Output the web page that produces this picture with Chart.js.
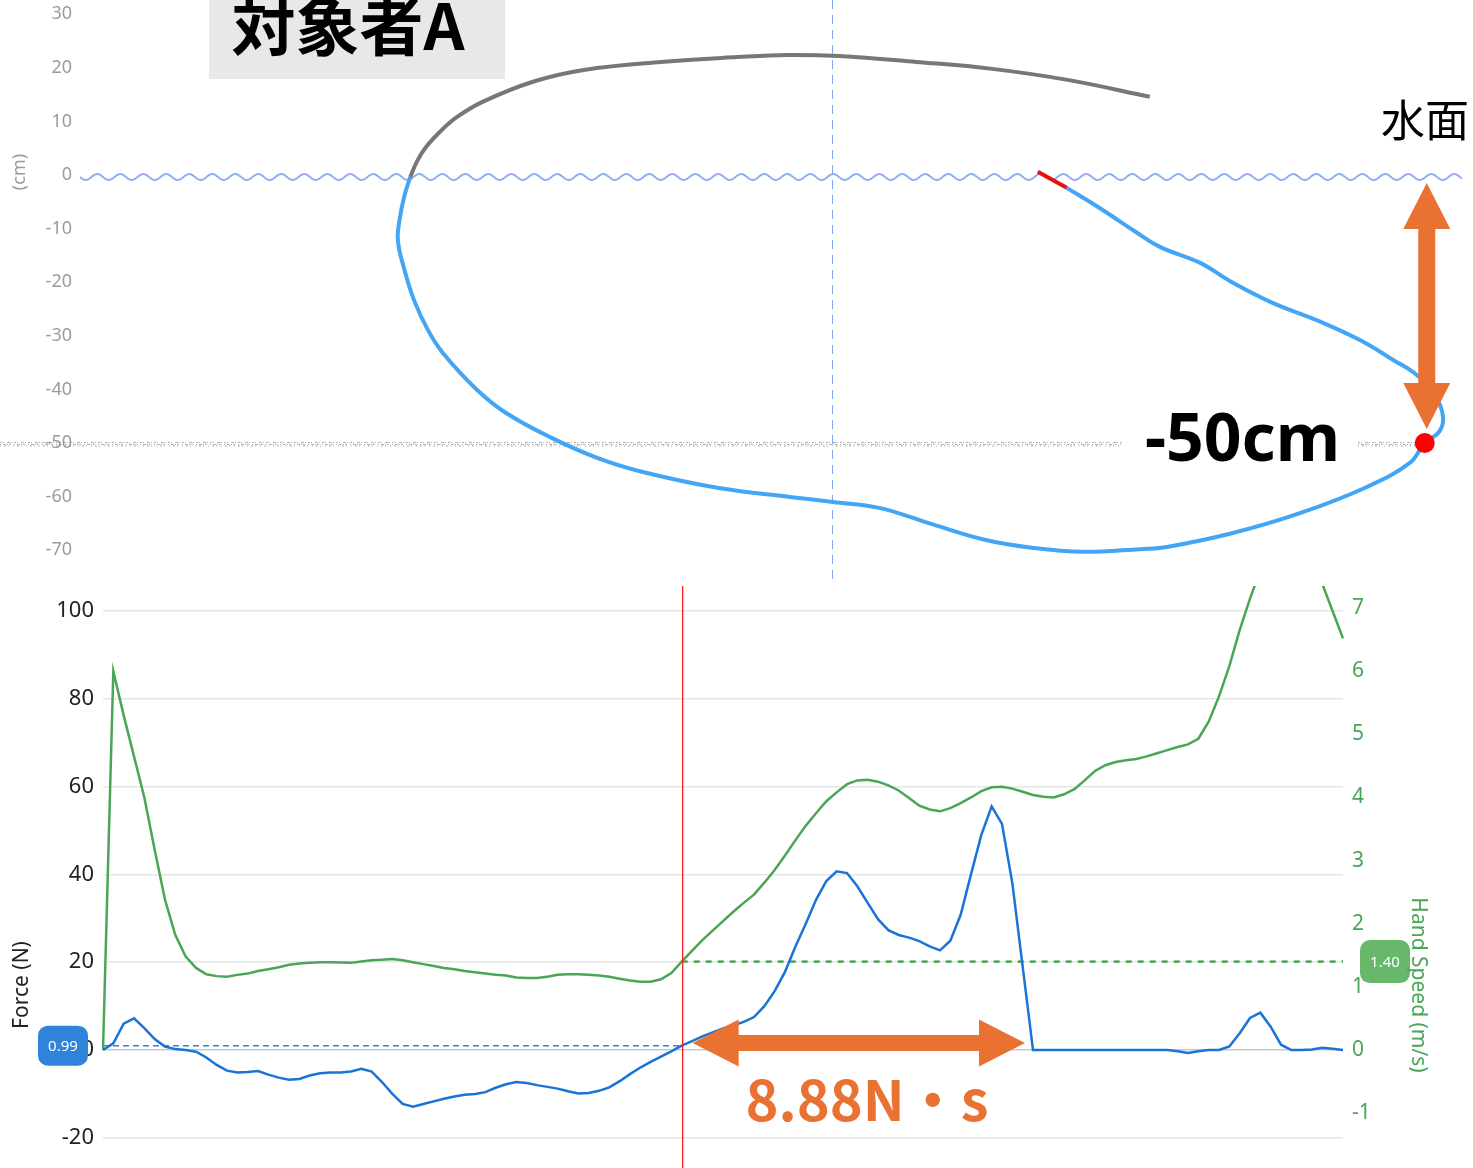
<!DOCTYPE html>
<html lang="ja">
<head>
<meta charset="utf-8">
<title>対象者A ストローク</title>
<script src="https://cdn.jsdelivr.net/npm/chart.js@4.4.1/dist/chart.umd.min.js"></script>
<style>
  html, body { margin: 0; padding: 0; background: #fff; }
  #wrap { position: relative; width: 1473px; height: 1168px; overflow: hidden; }
  #pathChart { position: absolute; left: 0; top: 0; }
  #forceChart { position: absolute; left: 0; top: 586px; }
</style>
</head>
<body>
<div id="wrap">
  <canvas id="pathChart" width="1473" height="582"></canvas>
  <canvas id="forceChart" width="1473" height="582"></canvas>
</div>
<script>
// hand path, side view (cm): horizontal position / depth
const recoveryX = [-78.7, -77.4, -75.6, -72.6, -70.0, -65.3, -55.8, -46.3, -31.9, -17.7, -8.2, 1.3, 15.7, 29.9, 44.2, 59.3];
const recoveryY = [-0.4, 2.6, 5.4, 8.6, 10.8, 13.6, 17.4, 19.6, 21.1, 22.0, 22.4, 22.2, 21.1, 19.8, 17.7, 14.6];

const strokeX = [43.8, 50.0, 56.2, 61.2, 68.7, 74.8, 82.3, 90.5, 98.5, 104.7,
  109.1, 112.5, 114.0, 113.3, 110.6, 107.8, 99.8, 87.3, 74.8, 62.5,
  57.5, 46.8, 37.7, 28.7, 17.9, 8.8, 0.2, -7.5, -21.1, -34.5,
  -43.7, -52.6, -60.8, -66.2, -72.6, -75.4, -78.0, -79.9, -81.0, -80.6, -79.8, -78.7];
const strokeY = [-2.4, -6.2, -10.3, -13.4, -16.4, -20.1, -23.9, -27.1, -30.8, -34.5,
  -37.3, -41.0, -45.1, -47.9, -50.0, -53.7, -58.2, -63.1, -66.8, -69.4,
  -69.8, -70.3, -69.6, -68.1, -64.9, -62.1, -61.0, -60.1, -58.4, -55.6,
  -52.8, -48.9, -44.4, -40.1, -33.2, -28.9, -23.3, -17.2, -12.1, -7.9, -4.0, -0.4];

const entryX = [38.4, 43.8];
const entryY = [0.6, -2.4];

const deepX = [110.6];
const deepY = [-50];

const depthTicks = [30, 20, 10, 0, -10, -20, -30, -40, -50, -60, -70];

// force (N) and hand speed (m/s), one sample every 10 ms
const forceN = [
  0, 1.5, 6.0, 7.2, 5.0, 2.5, 0.8, 0.2, 0.0, -0.4,
  -1.7, -3.4, -4.7, -5.1, -5.0, -4.8, -5.6, -6.3, -6.8, -6.6,
  -5.8, -5.3, -5.1, -5.1, -4.9, -4.3, -4.9, -7.3, -10.0, -12.3,
  -12.9, -12.3, -11.7, -11.1, -10.6, -10.2, -10.0, -9.6, -8.6, -7.8,
  -7.3, -7.5, -8.0, -8.4, -8.8, -9.4, -9.9, -9.8, -9.3, -8.5,
  -7.1, -5.5, -4.0, -2.7, -1.5, -0.3, 0.99, 2.0, 3.1, 4.0,
  4.9, 5.6, 6.4, 7.5, 10.0, 13.4, 17.8, 23.5, 28.7, 34.2,
  38.5, 40.7, 40.3, 37.3, 33.5, 29.8, 27.3, 26.2, 25.6, 24.8,
  23.6, 22.7, 24.9, 30.8, 40.0, 49.0, 55.5, 51.5, 38.0, 19.0,
  0, 0, 0, 0, 0, 0, 0, 0, 0, 0,
  0, 0, 0, 0, -0.3, -0.7, -0.3, 0, 0, 0.8,
  3.8, 7.3, 8.5, 5.3, 1.2, 0, 0, 0.1, 0.5, 0.3,
  0
];
const handSpeed = [
  0, 6.0, 5.30, 4.65, 4.0, 3.17, 2.38, 1.82, 1.48, 1.30,
  1.20, 1.17, 1.16, 1.19, 1.21, 1.25, 1.28, 1.31, 1.35, 1.37,
  1.38, 1.39, 1.39, 1.385, 1.38, 1.40, 1.42, 1.43, 1.44, 1.42,
  1.39, 1.36, 1.33, 1.30, 1.28, 1.25, 1.23, 1.21, 1.19, 1.18,
  1.15, 1.14, 1.14, 1.16, 1.19, 1.20, 1.20, 1.19, 1.18, 1.16,
  1.13, 1.10, 1.08, 1.08, 1.12, 1.22, 1.40, 1.57, 1.74, 1.89,
  2.04, 2.19, 2.33, 2.46, 2.65, 2.85, 3.08, 3.32, 3.55, 3.75,
  3.94, 4.08, 4.21, 4.27, 4.28, 4.25, 4.19, 4.11, 3.99, 3.87,
  3.81, 3.78, 3.83, 3.91, 4.00, 4.10, 4.16, 4.17, 4.14, 4.09,
  4.04, 4.01, 4.00, 4.05, 4.13, 4.27, 4.42, 4.51, 4.56, 4.59,
  4.61, 4.65, 4.70, 4.75, 4.80, 4.84, 4.93, 5.20, 5.60, 6.08,
  6.65, 7.15, 7.60, 8.00, 8.25, 8.35, 8.25, 7.90, 7.38, 6.95,
  6.52
];
const forceTicks = [-20, 0, 20, 40, 60, 80, 100];
const speedTicks = [-1, 0, 1, 2, 3, 4, 5, 6, 7];
const cursorIndex = 56;   // sample where the hand starts pushing
const pushEndIndex = 90;  // force back to zero
const impulseLabel = '8.88N・s';

const ORANGE = '#e97132';
const BLUE_PATH = '#42a5f5';
const FORCE_BLUE = '#1a73d6';
const SPEED_GREEN = '#4aa556';

function xy(xs, ys) {
  return xs.map((x, i) => ({ x: x, y: ys[i] }));
}

function doubleArrow(ctx, x1, y1, x2, y2, shaft, headW, headLen, color) {
  const len = Math.hypot(x2 - x1, y2 - y1);
  const ang = Math.atan2(y2 - y1, x2 - x1);
  ctx.save();
  ctx.translate(x1, y1);
  ctx.rotate(ang);
  ctx.beginPath();
  ctx.moveTo(0, 0);
  ctx.lineTo(headLen, -headW / 2);
  ctx.lineTo(headLen, -shaft / 2);
  ctx.lineTo(len - headLen, -shaft / 2);
  ctx.lineTo(len - headLen, -headW / 2);
  ctx.lineTo(len, 0);
  ctx.lineTo(len - headLen, headW / 2);
  ctx.lineTo(len - headLen, shaft / 2);
  ctx.lineTo(headLen, shaft / 2);
  ctx.lineTo(headLen, headW / 2);
  ctx.closePath();
  ctx.fillStyle = color;
  ctx.fill();
  ctx.restore();
}

function badge(ctx, cx, cy, w, h, r, fill, text) {
  const l = cx - w / 2, t = cy - h / 2, rr = cx + w / 2, b = cy + h / 2;
  ctx.beginPath();
  ctx.moveTo(l + r, t);
  ctx.arcTo(rr, t, rr, b, r);
  ctx.arcTo(rr, b, l, b, r);
  ctx.arcTo(l, b, l, t, r);
  ctx.arcTo(l, t, rr, t, r);
  ctx.closePath();
  ctx.fillStyle = fill;
  ctx.fill();
  ctx.fillStyle = '#fff';
  ctx.font = '15px "Noto Sans", sans-serif';
  ctx.textAlign = 'center';
  ctx.textBaseline = 'middle';
  ctx.fillText(text, cx, cy + 1);
}

function rotatedText(ctx, text, x, y, angle, font, color) {
  ctx.save();
  ctx.translate(x, y);
  ctx.rotate(angle);
  ctx.font = font;
  ctx.fillStyle = color;
  ctx.textAlign = 'center';
  ctx.textBaseline = 'middle';
  ctx.fillText(text, 0, 0);
  ctx.restore();
}

// water surface, centre line, depth marker, labels
const pathDecor = {
  id: 'pathDecor',
  beforeDatasetsDraw(chart) {
    const { ctx, scales: { x, y } } = chart;
    const y0 = y.getPixelForValue(0);
    const x0 = x.getPixelForValue(0);
    ctx.save();

    ctx.strokeStyle = '#7fa6f0';
    ctx.lineWidth = 1;
    ctx.setLineDash([9, 6]);
    ctx.beginPath();
    ctx.moveTo(Math.round(x0) + 0.5, 0);
    ctx.lineTo(Math.round(x0) + 0.5, chart.height);
    ctx.stroke();
    ctx.setLineDash([]);

    ctx.strokeStyle = 'rgba(125,160,245,0.85)';
    ctx.lineWidth = 2;
    ctx.beginPath();
    for (let px = 80; px <= 1462; px++) {
      const py = y0 + 2 + 3 * Math.sin((px - 80) / 23 * 2 * Math.PI);
      if (px === 80) ctx.moveTo(px, py); else ctx.lineTo(px, py);
    }
    ctx.stroke();

    // grainy depth line, broken where the depth label sits
    const yd = y.getPixelForValue(deepY[0]) + 1;
    const xd = x.getPixelForValue(deepX[0]);
    ctx.lineWidth = 1;
    ctx.strokeStyle = 'rgba(130,130,130,0.65)';
    [[yd - 1.5, [2, 1, 1, 3, 3, 1, 1, 2]], [yd + 0.5, [1, 2, 3, 1, 1, 1, 2, 3]], [yd + 2, [1, 3, 2, 2, 1, 4]]].forEach(([yy, dash]) => {
      ctx.setLineDash(dash);
      ctx.beginPath();
      ctx.moveTo(0, yy); ctx.lineTo(1122, yy);
      ctx.moveTo(1358, yy); ctx.lineTo(xd, yy);
      ctx.stroke();
    });
    ctx.restore();
  },
  afterDatasetsDraw(chart) {
    const { ctx, scales: { x, y } } = chart;
    ctx.save();

    // subject tag
    ctx.fillStyle = '#e8e8e8';
    ctx.fillRect(209, 0, 296, 79);
    ctx.fillStyle = '#000';
    ctx.font = 'bold 64px "Noto Sans CJK JP", sans-serif';
    ctx.textAlign = 'center';
    ctx.textBaseline = 'middle';
    ctx.fillText('対象者A', 348, 26);

    ctx.font = '44px "Noto Sans CJK JP", sans-serif';
    ctx.fillText('水面', 1425, 120);

    // depth arrow: surface to deepest point
    const ax = x.getPixelForValue(deepX[0]) + 2;
    doubleArrow(ctx, ax, y.getPixelForValue(0) + 8, ax, y.getPixelForValue(deepY[0]) - 14, 17, 47, 46, ORANGE);

    ctx.fillStyle = '#000';
    ctx.font = 'bold 66px "Noto Sans", sans-serif';
    ctx.textAlign = 'left';
    ctx.textBaseline = 'alphabetic';
    ctx.fillText(deepY[0] + 'cm', 1145, 461);

    rotatedText(ctx, '(cm)', 20, 172, -Math.PI / 2, '18px "Noto Sans", sans-serif', '#9b9b9b');
    ctx.restore();
  }
};

new Chart(document.getElementById('pathChart'), {
  type: 'scatter',
  data: {
    datasets: [
      { data: xy(deepX, deepY), pointRadius: 10, pointBackgroundColor: '#ff0000', pointBorderWidth: 0, showLine: false },
      { data: xy(entryX, entryY), showLine: true, borderColor: '#e81010', borderWidth: 4, pointRadius: 0 },
      { data: xy(strokeX, strokeY), showLine: true, borderColor: BLUE_PATH, borderWidth: 4, pointRadius: 0, tension: 0.4 },
      { data: xy(recoveryX, recoveryY), showLine: true, borderColor: '#777777', borderWidth: 4, pointRadius: 0, tension: 0.4 }
    ]
  },
  options: {
    responsive: false,
    animation: false,
    events: [],
    layout: { autoPadding: false, padding: 0 },
    plugins: { legend: { display: false }, tooltip: { enabled: false } },
    scales: {
      x: { type: 'linear', min: -140.3, max: 119.6, display: false },
      y: {
        type: 'linear',
        min: -75.93,
        max: 32.65,
        afterBuildTicks: axis => { axis.ticks = depthTicks.map(v => ({ value: v })); },
        afterFit: axis => { axis.width = 80; axis.paddingTop = 0; axis.paddingBottom = 0; },
        grid: { display: false, drawTicks: false },
        border: { display: false },
        ticks: { color: '#9b9b9b', padding: 8, font: { family: '"Noto Sans", sans-serif', size: 18 } }
      }
    }
  },
  plugins: [pathDecor]
});

// cursor, reference levels, impulse arrow, axis titles
const forceDecor = {
  id: 'forceDecor',
  beforeDatasetsDraw(chart) {
    const { ctx, chartArea, scales: { x, y, y1 } } = chart;
    const cx = x.getPixelForValue(cursorIndex);
    ctx.save();
    ctx.lineWidth = 1.5;
    ctx.strokeStyle = '#2b86e0';
    ctx.setLineDash([6, 4]);
    const fy = y.getPixelForValue(forceN[cursorIndex]);
    ctx.beginPath(); ctx.moveTo(chartArea.left, fy); ctx.lineTo(cx, fy); ctx.stroke();

    ctx.lineWidth = 2.5;
    ctx.strokeStyle = SPEED_GREEN;
    ctx.setLineDash([6, 6]);
    const sy = y1.getPixelForValue(handSpeed[cursorIndex]);
    ctx.beginPath(); ctx.moveTo(cx, sy); ctx.lineTo(chartArea.right, sy); ctx.stroke();
    ctx.restore();
  },
  afterDatasetsDraw(chart) {
    const { ctx, chartArea, scales: { x, y, y1 } } = chart;
    const cx = x.getPixelForValue(cursorIndex);
    ctx.save();
    ctx.strokeStyle = '#ff1a1a';
    ctx.lineWidth = 1.3;
    ctx.beginPath(); ctx.moveTo(cx + 1, chartArea.top); ctx.lineTo(cx + 1, chartArea.bottom); ctx.stroke();

    badge(ctx, 63, y.getPixelForValue(forceN[cursorIndex]), 50, 40, 10, '#2e84d8', forceN[cursorIndex].toFixed(2));
    badge(ctx, 1385, y1.getPixelForValue(handSpeed[cursorIndex]), 50, 43, 10, '#67b86b', handSpeed[cursorIndex].toFixed(2));

    const ay = y.getPixelForValue(1.6);
    doubleArrow(ctx, cx + 11, ay, x.getPixelForValue(pushEndIndex) - 8, ay, 16, 47, 46, ORANGE);

    ctx.fillStyle = ORANGE;
    ctx.font = 'bold 56px "Noto Sans CJK JP", sans-serif';
    ctx.textAlign = 'center';
    ctx.textBaseline = 'middle';
    ctx.fillText(impulseLabel, 867, 514);

    rotatedText(ctx, 'Force (N)', 22, 399, -Math.PI / 2, '21px "Noto Sans", sans-serif', '#222');
    rotatedText(ctx, 'Hand Speed (m/s)', 1418, 399, Math.PI / 2, '21px "Noto Sans", sans-serif', SPEED_GREEN);
    ctx.restore();
  }
};

new Chart(document.getElementById('forceChart'), {
  type: 'line',
  data: {
    labels: forceN.map((_, i) => (i / 100).toFixed(2)),
    datasets: [
      { label: 'Force', data: forceN, yAxisID: 'y', borderColor: FORCE_BLUE, borderWidth: 2.5, pointRadius: 0, tension: 0 },
      { label: 'Hand Speed', data: handSpeed, yAxisID: 'y1', borderColor: SPEED_GREEN, borderWidth: 2.5, pointRadius: 0, tension: 0 }
    ]
  },
  options: {
    responsive: false,
    animation: false,
    events: [],
    layout: { autoPadding: false, padding: 0 },
    plugins: { legend: { display: false }, tooltip: { enabled: false } },
    scales: {
      x: { type: 'category', offset: false, display: false },
      y: {
        position: 'left',
        min: -26.88,
        max: 105.69,
        afterBuildTicks: axis => { axis.ticks = forceTicks.map(v => ({ value: v })); },
        afterFit: axis => { axis.width = 103; axis.paddingTop = 0; axis.paddingBottom = 0; },
        grid: {
          drawTicks: false,
          lineWidth: 1.5,
          color: c => (c.tick && c.tick.value === 0 ? '#c9c9c9' : '#e6e6e6')
        },
        border: { display: false },
        ticks: { color: '#222', padding: 9, font: { family: '"Noto Sans", sans-serif', size: 22 } }
      },
      y1: {
        position: 'right',
        min: -1.869,
        max: 7.349,
        afterBuildTicks: axis => { axis.ticks = speedTicks.map(v => ({ value: v })); },
        afterFit: axis => { axis.width = 130; axis.paddingTop = 0; axis.paddingBottom = 0; },
        grid: { display: false, drawTicks: false },
        border: { display: false },
        ticks: { color: SPEED_GREEN, padding: 9, font: { family: '"Noto Sans", sans-serif', size: 21 } }
      }
    }
  },
  plugins: [forceDecor]
});
</script>
</body>
</html>
